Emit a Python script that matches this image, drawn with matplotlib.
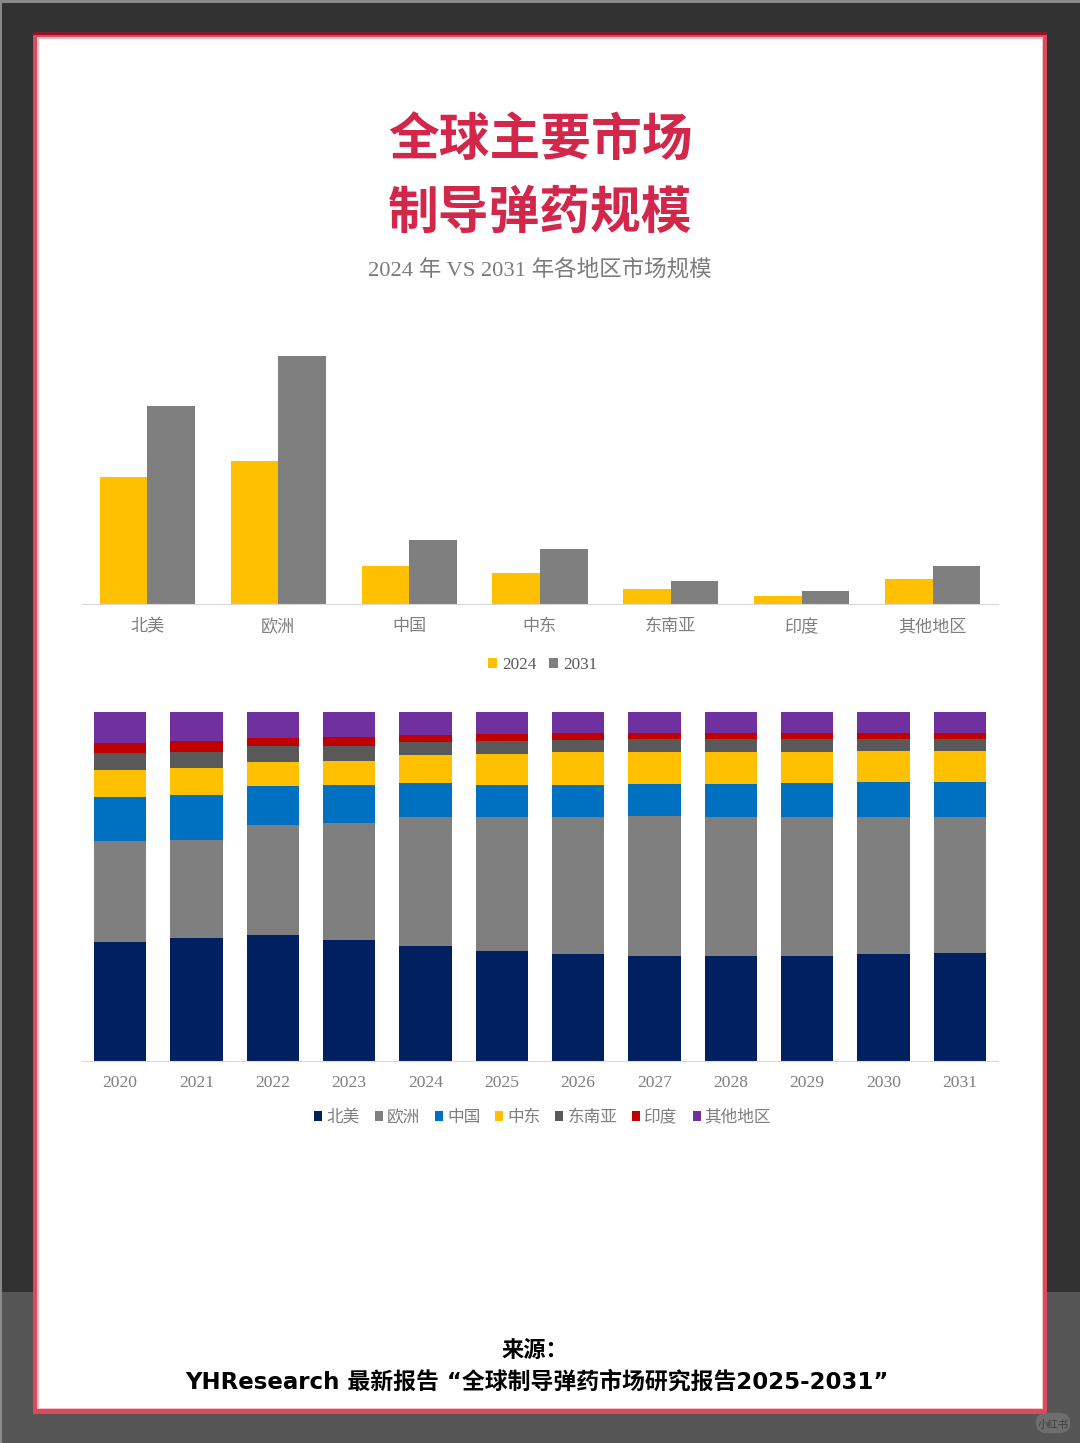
import matplotlib
matplotlib.use("Agg")
import matplotlib.pyplot as plt
import matplotlib.patches as patches

W, H = 1080, 1443

CJK = ["Noto Sans CJK SC", "DejaVu Sans"]
SERIF = ["Liberation Serif", "Noto Sans CJK SC"]
plt.rcParams["font.family"] = SERIF

# top chart
regions = ["北美", "欧洲", "中国", "中东", "东南亚", "印度", "其他地区"]
size_2024 = [127, 143, 38, 31, 15, 8, 25]
size_2031 = [198, 248, 64, 55, 23, 13, 38]

# bottom chart, share in percent
years = ["2020", "2021", "2022", "2023", "2024", "2025", "2026", "2027", "2028", "2029", "2030", "2031"]
share_na = [34.1, 35.2, 36.1, 34.7, 33.0, 31.5, 30.7, 30.1, 30.1, 30.1, 30.7, 30.9]
share_eu = [28.9, 28.1, 31.5, 33.5, 37.0, 38.4, 39.3, 40.1, 39.8, 39.8, 39.3, 39.0]
share_cn = [12.6, 12.9, 11.2, 10.9, 9.7, 9.2, 9.2, 9.2, 9.5, 9.7, 10.0, 10.0]
share_me = [7.7, 7.7, 6.9, 6.9, 8.0, 8.9, 9.2, 9.2, 9.2, 8.9, 8.9, 8.9]
share_sea = [4.9, 4.6, 4.6, 4.3, 3.7, 3.7, 3.7, 3.7, 3.7, 3.7, 3.4, 3.4]
share_in = [2.9, 3.2, 2.3, 2.6, 2.0, 2.0, 2.0, 1.7, 1.7, 1.7, 1.7, 1.7]
share_other = [8.9, 8.3, 7.4, 7.2, 6.6, 6.3, 6.0, 6.0, 6.0, 6.0, 6.0, 6.0]

shares = [share_na, share_eu, share_cn, share_me, share_sea, share_in, share_other]
share_colors = ["#002060", "#7f7f7f", "#0070c0", "#ffc000", "#595959", "#c00000", "#7030a0"]


def px_axes(fig, left, top, right, bottom):
    return fig.add_axes([left / W, 1 - bottom / H, (right - left) / W, (bottom - top) / H])


fig = plt.figure(figsize=(W / 100, H / 100), dpi=100)

# page: background, frame
bg = fig.add_axes([0, 0, 1, 1])
bg.set_xlim(0, W)
bg.set_ylim(H, 0)
bg.axis("off")
bg.add_patch(patches.Rectangle((0, 0), W, 1292, fc="#323232", ec="none"))
bg.add_patch(patches.Rectangle((0, 1292), W, H - 1292, fc="#565656", ec="none"))
bg.add_patch(patches.Rectangle((0, 0), W, 3, fc="#8a8a8a", ec="none"))
bg.add_patch(patches.Rectangle((0, 0), 1.5, H, fc="#8a8a8a", ec="none"))
bg.add_patch(patches.Rectangle((33, 32), 1014, 10, fc="#8e1526", ec="none"))
bg.add_patch(patches.Rectangle((33, 35), 1014, 1379, fc="#dd4a5e", ec="none"))
bg.add_patch(patches.Rectangle((37, 37), 1006, 1372, fc="#f7c3cb", ec="none"))
bg.add_patch(patches.Rectangle((39, 39), 1003, 1369, fc="white", ec="none"))

# watermark
bg.add_patch(patches.FancyBboxPatch((1040, 1417), 26, 12, boxstyle="round,pad=0,rounding_size=6",
                                    mutation_aspect=1, fc="#6e6e6e", ec="#6e6e6e", lw=6))
bg.text(1053, 1425, "小红书", family=CJK, fontsize=7.5, color="#3f3f3f", ha="center", va="center")

# titles
for y, line in [(141, "全球主要市场"), (213, "制导弹药规模")]:
    bg.text(540, y, line, family=CJK, fontsize=36.5, weight="black", color="#d2264a",
            ha="center", va="center")
bg.text(540, 270, "2024 年 VS 2031 年各地区市场规模", family=SERIF, fontsize=16.2, color="#7b7b7b",
        ha="center", va="center")

# footer
bg.text(535, 1350, "来源：", family=CJK, fontsize=16, weight="bold", color="black", ha="center", va="center")
bg.text(537, 1382, "YHResearch 最新报告 “全球制导弹药市场研究报告2025-2031”", family=["DejaVu Sans", "Noto Sans CJK SC"],
        fontsize=16.5, weight="bold", color="black", ha="center", va="center")

# top bars
ax1 = px_axes(fig, 82, 350, 998, 604)
ax1.patch.set_alpha(0)
x1 = list(range(len(regions)))
bw = 0.363
ax1.bar([i - bw / 2 for i in x1], size_2024, bw, color="#ffc000", label="2024")
ax1.bar([i + bw / 2 for i in x1], size_2031, bw, color="#7f7f7f", label="2031")
ax1.set_xlim(-0.5, 6.5)
ax1.set_ylim(0, 254)
ax1.set_yticks([])
ax1.set_xticks(x1)
ax1.set_xticklabels(regions, fontsize=12.3, color="#7f7f7f")
ax1.tick_params(axis="x", length=0, pad=11)
for s in ["top", "left", "right"]:
    ax1.spines[s].set_visible(False)
ax1.spines["bottom"].set_color("#d9d9d9")
ax1.legend(loc="center", bbox_to_anchor=(0.503, -0.24), ncol=2, frameon=False, fontsize=12.3,
           handlelength=0.5, handleheight=0.5, handletextpad=0.3, columnspacing=0.78,
           labelcolor="#595959")

# bottom stacked bars
ax2 = px_axes(fig, 82, 712, 998, 1061)
ax2.patch.set_alpha(0)
x2 = list(range(len(years)))
bottom = [0] * len(years)
for vals, color, name in zip(shares, share_colors, regions):
    ax2.bar(x2, vals, 0.685, bottom=bottom, color=color, label=name)
    bottom = [b + v for b, v in zip(bottom, vals)]
ax2.set_xlim(-0.5, 11.5)
ax2.set_ylim(0, 100)
ax2.set_yticks([])
ax2.set_xticks(x2)
ax2.set_xticklabels(years, fontsize=12.6, color="#7f7f7f")
ax2.tick_params(axis="x", length=0, pad=10)
for s in ["top", "left", "right"]:
    ax2.spines[s].set_visible(False)
ax2.spines["bottom"].set_color("#d9d9d9")
ax2.legend(loc="center", bbox_to_anchor=(0.503, -0.163), ncol=7, frameon=False, fontsize=12,
           handlelength=0.48, handleheight=0.48, handletextpad=0.24, columnspacing=0.9,
           labelcolor="#7f7f7f")

fig.savefig("out.png", dpi=100)
